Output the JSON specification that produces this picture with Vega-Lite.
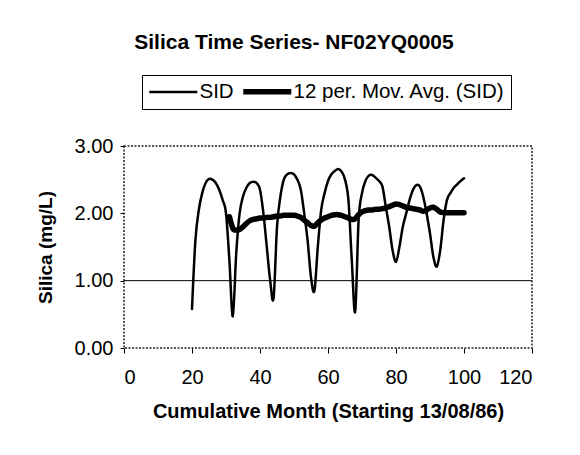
{
  "$schema": "https://vega.github.io/schema/vega-lite/v6.json",
  "autosize": "none",
  "width": 408,
  "height": 202,
  "padding": {"left": 124, "top": 146, "right": 48, "bottom": 107},
  "background": "white",
  "config": {
    "font": "Liberation Sans",
    "view": {"stroke": "#222", "strokeWidth": 1.5, "strokeDash": [2, 1.5]}
  },
  "title": {
    "text": "Silica Time Series- NF02YQ0005",
    "font": "Liberation Sans",
    "fontSize": 21,
    "fontWeight": "bold",
    "color": "black",
    "anchor": "middle",
    "baseline": "alphabetic",
    "offset": 5,
    "dx": -34
  },
  "datasets": {
    "ref": [{"level": 1}],
    "series": [
      {"month": 20, "value": 0.58, "series": "SID"},
      {"month": 21, "value": 1.6, "series": "SID"},
      {"month": 22, "value": 2.05, "series": "SID"},
      {"month": 23, "value": 2.3, "series": "SID"},
      {"month": 24, "value": 2.45, "series": "SID"},
      {"month": 25, "value": 2.51, "series": "SID"},
      {"month": 26, "value": 2.5, "series": "SID"},
      {"month": 27, "value": 2.45, "series": "SID"},
      {"month": 28, "value": 2.35, "series": "SID"},
      {"month": 29, "value": 2.2, "series": "SID"},
      {"month": 30, "value": 2.0, "series": "SID"},
      {"month": 31, "value": 1.3, "series": "SID"},
      {"month": 32, "value": 0.47, "series": "SID"},
      {"month": 33, "value": 1.4, "series": "SID"},
      {"month": 34, "value": 2.0, "series": "SID"},
      {"month": 35, "value": 2.25, "series": "SID"},
      {"month": 36, "value": 2.38, "series": "SID"},
      {"month": 37, "value": 2.45, "series": "SID"},
      {"month": 38, "value": 2.47, "series": "SID"},
      {"month": 39, "value": 2.45, "series": "SID"},
      {"month": 40, "value": 2.35, "series": "SID"},
      {"month": 41, "value": 2.0, "series": "SID"},
      {"month": 42, "value": 1.5, "series": "SID"},
      {"month": 43, "value": 1.0, "series": "SID"},
      {"month": 44, "value": 0.74, "series": "SID"},
      {"month": 45, "value": 1.8, "series": "SID"},
      {"month": 46, "value": 2.25, "series": "SID"},
      {"month": 47, "value": 2.5, "series": "SID"},
      {"month": 48, "value": 2.58, "series": "SID"},
      {"month": 49, "value": 2.6, "series": "SID"},
      {"month": 50, "value": 2.58, "series": "SID"},
      {"month": 51, "value": 2.5, "series": "SID"},
      {"month": 52, "value": 2.35, "series": "SID"},
      {"month": 53, "value": 2.0, "series": "SID"},
      {"month": 54, "value": 1.6, "series": "SID"},
      {"month": 55, "value": 1.05, "series": "SID"},
      {"month": 56, "value": 0.85, "series": "SID"},
      {"month": 57, "value": 1.5, "series": "SID"},
      {"month": 58, "value": 2.05, "series": "SID"},
      {"month": 59, "value": 2.3, "series": "SID"},
      {"month": 60, "value": 2.48, "series": "SID"},
      {"month": 61, "value": 2.58, "series": "SID"},
      {"month": 62, "value": 2.63, "series": "SID"},
      {"month": 63, "value": 2.66, "series": "SID"},
      {"month": 64, "value": 2.62, "series": "SID"},
      {"month": 65, "value": 2.5, "series": "SID"},
      {"month": 66, "value": 2.2, "series": "SID"},
      {"month": 67, "value": 1.3, "series": "SID"},
      {"month": 68, "value": 0.54, "series": "SID"},
      {"month": 69, "value": 1.9, "series": "SID"},
      {"month": 70, "value": 2.3, "series": "SID"},
      {"month": 71, "value": 2.48, "series": "SID"},
      {"month": 72, "value": 2.56, "series": "SID"},
      {"month": 73, "value": 2.57, "series": "SID"},
      {"month": 74, "value": 2.53, "series": "SID"},
      {"month": 75, "value": 2.48, "series": "SID"},
      {"month": 76, "value": 2.4, "series": "SID"},
      {"month": 77, "value": 2.1, "series": "SID"},
      {"month": 78, "value": 1.8, "series": "SID"},
      {"month": 79, "value": 1.45, "series": "SID"},
      {"month": 80, "value": 1.28, "series": "SID"},
      {"month": 81, "value": 1.5, "series": "SID"},
      {"month": 82, "value": 1.8, "series": "SID"},
      {"month": 83, "value": 2.0, "series": "SID"},
      {"month": 84, "value": 2.2, "series": "SID"},
      {"month": 85, "value": 2.35, "series": "SID"},
      {"month": 86, "value": 2.42, "series": "SID"},
      {"month": 87, "value": 2.4, "series": "SID"},
      {"month": 88, "value": 2.25, "series": "SID"},
      {"month": 89, "value": 2.0, "series": "SID"},
      {"month": 90, "value": 1.7, "series": "SID"},
      {"month": 91, "value": 1.35, "series": "SID"},
      {"month": 92, "value": 1.21, "series": "SID"},
      {"month": 93, "value": 1.45, "series": "SID"},
      {"month": 94, "value": 1.9, "series": "SID"},
      {"month": 95, "value": 2.2, "series": "SID"},
      {"month": 96, "value": 2.3, "series": "SID"},
      {"month": 97, "value": 2.38, "series": "SID"},
      {"month": 98, "value": 2.43, "series": "SID"},
      {"month": 99, "value": 2.48, "series": "SID"},
      {"month": 100, "value": 2.52, "series": "SID"},
      {"month": 31, "value": 1.95, "series": "12 per. Mov. Avg. (SID)"},
      {"month": 32, "value": 1.78, "series": "12 per. Mov. Avg. (SID)"},
      {"month": 33, "value": 1.75, "series": "12 per. Mov. Avg. (SID)"},
      {"month": 34, "value": 1.76, "series": "12 per. Mov. Avg. (SID)"},
      {"month": 35, "value": 1.8, "series": "12 per. Mov. Avg. (SID)"},
      {"month": 36, "value": 1.85, "series": "12 per. Mov. Avg. (SID)"},
      {"month": 37, "value": 1.89, "series": "12 per. Mov. Avg. (SID)"},
      {"month": 38, "value": 1.91, "series": "12 per. Mov. Avg. (SID)"},
      {"month": 39, "value": 1.92, "series": "12 per. Mov. Avg. (SID)"},
      {"month": 40, "value": 1.93, "series": "12 per. Mov. Avg. (SID)"},
      {"month": 41, "value": 1.93, "series": "12 per. Mov. Avg. (SID)"},
      {"month": 42, "value": 1.94, "series": "12 per. Mov. Avg. (SID)"},
      {"month": 43, "value": 1.94, "series": "12 per. Mov. Avg. (SID)"},
      {"month": 44, "value": 1.95, "series": "12 per. Mov. Avg. (SID)"},
      {"month": 45, "value": 1.96, "series": "12 per. Mov. Avg. (SID)"},
      {"month": 46, "value": 1.96, "series": "12 per. Mov. Avg. (SID)"},
      {"month": 47, "value": 1.97, "series": "12 per. Mov. Avg. (SID)"},
      {"month": 48, "value": 1.97, "series": "12 per. Mov. Avg. (SID)"},
      {"month": 49, "value": 1.97, "series": "12 per. Mov. Avg. (SID)"},
      {"month": 50, "value": 1.97, "series": "12 per. Mov. Avg. (SID)"},
      {"month": 51, "value": 1.96, "series": "12 per. Mov. Avg. (SID)"},
      {"month": 52, "value": 1.94, "series": "12 per. Mov. Avg. (SID)"},
      {"month": 53, "value": 1.9, "series": "12 per. Mov. Avg. (SID)"},
      {"month": 54, "value": 1.86, "series": "12 per. Mov. Avg. (SID)"},
      {"month": 55, "value": 1.82, "series": "12 per. Mov. Avg. (SID)"},
      {"month": 56, "value": 1.81, "series": "12 per. Mov. Avg. (SID)"},
      {"month": 57, "value": 1.86, "series": "12 per. Mov. Avg. (SID)"},
      {"month": 58, "value": 1.9, "series": "12 per. Mov. Avg. (SID)"},
      {"month": 59, "value": 1.93, "series": "12 per. Mov. Avg. (SID)"},
      {"month": 60, "value": 1.95, "series": "12 per. Mov. Avg. (SID)"},
      {"month": 61, "value": 1.97, "series": "12 per. Mov. Avg. (SID)"},
      {"month": 62, "value": 1.98, "series": "12 per. Mov. Avg. (SID)"},
      {"month": 63, "value": 1.98, "series": "12 per. Mov. Avg. (SID)"},
      {"month": 64, "value": 1.97, "series": "12 per. Mov. Avg. (SID)"},
      {"month": 65, "value": 1.95, "series": "12 per. Mov. Avg. (SID)"},
      {"month": 66, "value": 1.93, "series": "12 per. Mov. Avg. (SID)"},
      {"month": 67, "value": 1.91, "series": "12 per. Mov. Avg. (SID)"},
      {"month": 68, "value": 1.92, "series": "12 per. Mov. Avg. (SID)"},
      {"month": 69, "value": 1.98, "series": "12 per. Mov. Avg. (SID)"},
      {"month": 70, "value": 2.02, "series": "12 per. Mov. Avg. (SID)"},
      {"month": 71, "value": 2.04, "series": "12 per. Mov. Avg. (SID)"},
      {"month": 72, "value": 2.05, "series": "12 per. Mov. Avg. (SID)"},
      {"month": 73, "value": 2.05, "series": "12 per. Mov. Avg. (SID)"},
      {"month": 74, "value": 2.06, "series": "12 per. Mov. Avg. (SID)"},
      {"month": 75, "value": 2.06, "series": "12 per. Mov. Avg. (SID)"},
      {"month": 76, "value": 2.07, "series": "12 per. Mov. Avg. (SID)"},
      {"month": 77, "value": 2.08, "series": "12 per. Mov. Avg. (SID)"},
      {"month": 78, "value": 2.1, "series": "12 per. Mov. Avg. (SID)"},
      {"month": 79, "value": 2.12, "series": "12 per. Mov. Avg. (SID)"},
      {"month": 80, "value": 2.14, "series": "12 per. Mov. Avg. (SID)"},
      {"month": 81, "value": 2.13, "series": "12 per. Mov. Avg. (SID)"},
      {"month": 82, "value": 2.11, "series": "12 per. Mov. Avg. (SID)"},
      {"month": 83, "value": 2.09, "series": "12 per. Mov. Avg. (SID)"},
      {"month": 84, "value": 2.08, "series": "12 per. Mov. Avg. (SID)"},
      {"month": 85, "value": 2.07, "series": "12 per. Mov. Avg. (SID)"},
      {"month": 86, "value": 2.06, "series": "12 per. Mov. Avg. (SID)"},
      {"month": 87, "value": 2.05, "series": "12 per. Mov. Avg. (SID)"},
      {"month": 88, "value": 2.03, "series": "12 per. Mov. Avg. (SID)"},
      {"month": 89, "value": 2.05, "series": "12 per. Mov. Avg. (SID)"},
      {"month": 90, "value": 2.08, "series": "12 per. Mov. Avg. (SID)"},
      {"month": 91, "value": 2.09, "series": "12 per. Mov. Avg. (SID)"},
      {"month": 92, "value": 2.06, "series": "12 per. Mov. Avg. (SID)"},
      {"month": 93, "value": 2.02, "series": "12 per. Mov. Avg. (SID)"},
      {"month": 94, "value": 2.01, "series": "12 per. Mov. Avg. (SID)"},
      {"month": 95, "value": 2.01, "series": "12 per. Mov. Avg. (SID)"},
      {"month": 96, "value": 2.01, "series": "12 per. Mov. Avg. (SID)"},
      {"month": 97, "value": 2.01, "series": "12 per. Mov. Avg. (SID)"},
      {"month": 98, "value": 2.01, "series": "12 per. Mov. Avg. (SID)"},
      {"month": 99, "value": 2.01, "series": "12 per. Mov. Avg. (SID)"},
      {"month": 100, "value": 2.01, "series": "12 per. Mov. Avg. (SID)"}
    ]
  },
  "layer": [
    {
      "data": {"name": "ref"},
      "mark": {"type": "rule", "color": "black", "strokeWidth": 1},
      "encoding": {
        "y": {"field": "level", "type": "quantitative", "scale": {"domain": [0, 3]}}
      }
    },
    {
      "data": {"name": "series"},
      "mark": {"type": "line", "color": "black", "interpolate": "cardinal", "strokeCap": "round", "strokeJoin": "round"},
      "encoding": {
        "x": {
          "field": "month",
          "type": "quantitative",
          "scale": {"domain": [0, 120], "nice": false},
          "axis": {
            "values": [0, 20, 40, 60, 80, 100, 120],
            "title": "Cumulative Month (Starting 13/08/86)",
            "titleFont": "Liberation Sans",
            "titleFontSize": 20,
            "titleFontWeight": "bold",
            "titleColor": "black",
            "titlePadding": 14,
            "labelFont": "Liberation Sans",
            "labelFontSize": 20,
            "labelColor": "black",
            "labelPadding": 14,
            "tickSize": 5,
            "tickColor": "black",
            "domain": false,
            "grid": false
          }
        },
        "y": {
          "field": "value",
          "type": "quantitative",
          "scale": {"domain": [0, 3], "nice": false},
          "axis": {
            "values": [0, 0.5, 1, 1.5, 2, 2.5, 3],
            "format": ".2f",
            "title": "Silica (mg/L)",
            "titleFont": "Liberation Sans",
            "titleFontSize": 19,
            "titleFontWeight": "bold",
            "titleColor": "black",
            "titlePadding": 19,
            "labelFont": "Liberation Sans",
            "labelFontSize": 20,
            "labelColor": "black",
            "labelPadding": 7,
            "tickSize": 4,
            "tickColor": "black",
            "domain": false,
            "grid": false
          }
        },
        "detail": {"field": "series"},
        "strokeWidth": {
          "field": "series",
          "type": "ordinal",
          "scale": {"domain": ["SID", "12 per. Mov. Avg. (SID)"], "range": [2.5, 5.5]},
          "legend": {
            "title": null,
            "orient": "none",
            "legendX": 18,
            "legendY": -71,
            "direction": "horizontal",
            "symbolType": "M-1.5,0H6.5",
            "symbolSize": 144,
            "symbolStrokeColor": "black",
            "labelFont": "Liberation Sans",
            "labelFontSize": 20.5,
            "labelColor": "black",
            "labelOffset": 31,
            "columnPadding": -2,
            "strokeColor": "black",
            "padding": 6,
            "labelLimit": 400
          }
        }
      }
    }
  ]
}
